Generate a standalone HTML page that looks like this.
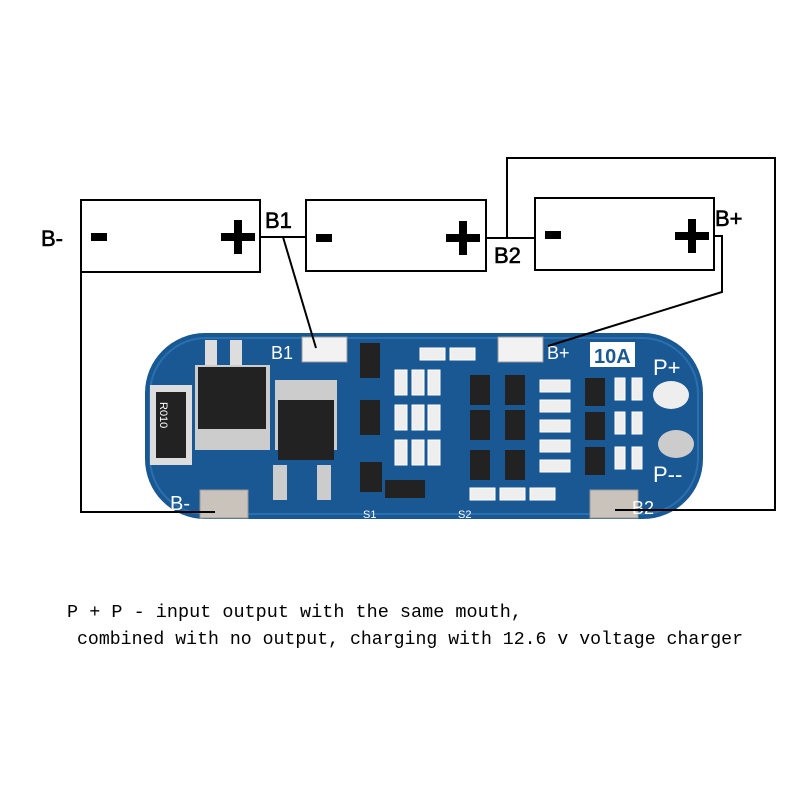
<!DOCTYPE html>
<html><head><style>
body{margin:0;background:#fff;width:800px;height:800px;overflow:hidden}
</style></head><body>
<svg width="800" height="800" viewBox="0 0 800 800" xmlns="http://www.w3.org/2000/svg" font-family="Liberation Sans, sans-serif">
<rect width="800" height="800" fill="#fff"/>
<!-- board -->
<rect x="145" y="333" width="558" height="186" rx="60" fill="#1a5894"/>
<rect x="150" y="338" width="548" height="176" rx="56" fill="none" stroke="#2a6fae" stroke-width="2"/>
<rect x="150" y="385" width="42" height="80" fill="#ddd"/><rect x="156" y="392" width="30" height="66" fill="#222"/>
<text x="160" y="402" font-size="11" fill="#fff" transform="rotate(90 160 402)">R010</text>
<rect x="205" y="340" width="12" height="25" fill="#ddd"/><rect x="230" y="340" width="12" height="25" fill="#ddd"/>
<rect x="195" y="365" width="75" height="85" fill="#ccc"/><rect x="198" y="367" width="68" height="62" fill="#222"/>
<rect x="275" y="380" width="62" height="70" fill="#ccc"/><rect x="278" y="400" width="56" height="60" fill="#222"/>
<rect x="273" y="465" width="14" height="35" fill="#ccc"/><rect x="317" y="465" width="14" height="35" fill="#ccc"/>
<g fill="#222">
<rect x="360" y="343" width="20" height="35"/><rect x="360" y="400" width="20" height="35"/><rect x="360" y="462" width="22" height="30"/>
<rect x="385" y="480" width="40" height="18"/>
<rect x="470" y="375" width="20" height="30"/><rect x="470" y="410" width="20" height="30"/><rect x="470" y="450" width="20" height="30"/>
<rect x="505" y="375" width="20" height="30"/><rect x="505" y="410" width="20" height="30"/><rect x="505" y="450" width="20" height="30"/>
<rect x="585" y="378" width="20" height="28"/><rect x="585" y="412" width="20" height="28"/><rect x="585" y="447" width="20" height="28"/>
</g>
<g fill="#eee" stroke="#fff">
<rect x="395" y="370" width="12" height="25"/><rect x="412" y="370" width="12" height="25"/><rect x="428" y="370" width="12" height="25"/>
<rect x="395" y="405" width="12" height="25"/><rect x="412" y="405" width="12" height="25"/><rect x="428" y="405" width="12" height="25"/>
<rect x="395" y="440" width="12" height="25"/><rect x="412" y="440" width="12" height="25"/><rect x="428" y="440" width="12" height="25"/>
<rect x="540" y="380" width="30" height="12"/><rect x="540" y="400" width="30" height="12"/><rect x="540" y="420" width="30" height="12"/><rect x="540" y="440" width="30" height="12"/><rect x="540" y="460" width="30" height="12"/>
<rect x="420" y="348" width="25" height="12"/><rect x="450" y="348" width="25" height="12"/>
<rect x="615" y="378" width="10" height="22"/><rect x="632" y="378" width="10" height="22"/><rect x="615" y="412" width="10" height="22"/><rect x="632" y="412" width="10" height="22"/><rect x="615" y="447" width="10" height="22"/><rect x="632" y="447" width="10" height="22"/>
<rect x="470" y="488" width="25" height="12"/><rect x="500" y="488" width="25" height="12"/><rect x="530" y="488" width="25" height="12"/>
</g>
<rect x="302" y="337" width="45" height="25" fill="#f2f2f2" stroke="#999"/>
<rect x="498" y="337" width="45" height="25" fill="#f2f2f2" stroke="#999"/>
<rect x="200" y="490" width="48" height="28" fill="#c9c3bc" stroke="#999"/>
<rect x="590" y="490" width="48" height="28" fill="#c9c3bc" stroke="#999"/>
<ellipse cx="671" cy="395" rx="18" ry="14" fill="#eee"/>
<ellipse cx="676" cy="444" rx="18" ry="14" fill="#ccc"/>
<rect x="590" y="342" width="45" height="25" fill="#fff"/>
<g fill="#fff" font-size="18">
<text x="271" y="359">B1</text><text x="547" y="359">B+</text>
<text x="594" y="363" fill="#1a5894" font-size="20" font-weight="bold">10A</text>
<text x="653" y="375" font-size="22">P+</text><text x="653" y="482" font-size="22">P--</text>
<text x="170" y="510" font-size="20">B-</text><text x="632" y="514">B2</text>
<text x="363" y="518" font-size="11">S1</text><text x="458" y="518" font-size="11">S2</text>
</g>
<!-- batteries -->
<g fill="#fff" stroke="#000" stroke-width="2">
<rect x="81" y="200" width="179" height="72"/>
<rect x="306" y="200" width="180" height="71"/>
<rect x="535" y="198" width="179" height="72"/>
</g>
<g fill="#000">
<rect x="91" y="233" width="16" height="8"/><rect x="316" y="234" width="16" height="8"/><rect x="545" y="231" width="16" height="8"/>
<rect x="221" y="233" width="34" height="8"/><rect x="234" y="220" width="8" height="34"/>
<rect x="446" y="234" width="34" height="8"/><rect x="459" y="221" width="8" height="34"/>
<rect x="675" y="232" width="34" height="8"/><rect x="688" y="219" width="8" height="34"/>
</g>
<g fill="none" stroke="#000" stroke-width="2">
<polyline points="81,272 81,512 215,512"/>
<line x1="260" y1="237" x2="306" y2="237"/>
<line x1="283" y1="237" x2="316" y2="348"/>
<line x1="486" y1="238" x2="535" y2="238"/>
<polyline points="507,238 507,158 775,158 775,510 615,510"/>
<polyline points="714,236 722,236 722,292 548,346"/>
</g>
<g font-size="22" fill="#000" stroke="#000" stroke-width="0.6">
<text x="41" y="246">B-</text><text x="265" y="228">B1</text><text x="494" y="263">B2</text><text x="715" y="226">B+</text>
</g>
<g font-family="Liberation Mono, monospace" font-size="18" fill="#000">
<text x="67" y="617" textLength="455" lengthAdjust="spacingAndGlyphs">P + P - input output with the same mouth,</text>
<text x="77" y="644" textLength="666" lengthAdjust="spacingAndGlyphs">combined with no output, charging with 12.6 v voltage charger</text>
</g>
</svg>
</body></html>
